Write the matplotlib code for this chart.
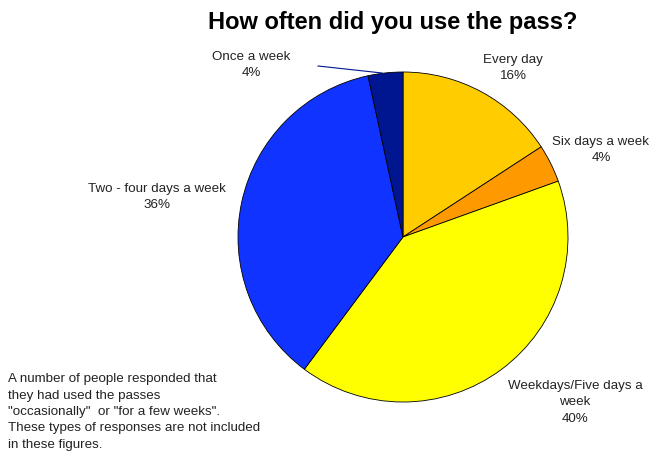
import matplotlib
matplotlib.use('Agg')
import matplotlib.pyplot as plt

plt.rcParams['font.family'] = ['Liberation Sans', 'DejaVu Sans']

# slices, clockwise from 12 o'clock
labels = ['Every day', 'Six days a week', 'Weekdays/Five days a\nweek',
          'Two - four days a week', 'Once a week']
shares = [15.8, 3.7, 40.7, 36.4, 3.4]
pct_text = ['16%', '4%', '40%', '36%', '4%']
colors = ['#FFCC00', '#FF9900', '#FFFF00', '#1133FF', '#001590']

W, H = 654, 459
fig = plt.figure(figsize=(W / 100, H / 100), dpi=100)
ax = fig.add_axes([0, 0, 1, 1])

cx, cy, r = 403, H - 237, 165
ax.pie(shares, colors=colors, startangle=90, counterclock=False,
       center=(cx, cy), radius=r, frame=True,
       wedgeprops=dict(edgecolor='black', linewidth=0.6))
ax.set_xlim(0, W)
ax.set_ylim(0, H)
ax.set_aspect('equal')
ax.axis('off')

# label positions in pixel coords (from top)
label_pos = [(513, 68), (601, 150), (575, 402), (157, 197), (251, 65)]
for lab, pct, (x, y) in zip(labels, pct_text, label_pos):
    ax.text(x, H - y, lab + '\n' + pct, ha='center', va='center',
            fontsize=9.6, linespacing=1.5, color='#222222')

# leader line for the small slice
ax.plot([318, 382], [H - 66, H - 73], color='#001590', linewidth=0.8)

ax.text(393, H - 22, 'How often did you use the pass?', ha='center', va='center',
        fontsize=17, fontweight='bold')

note = ('A number of people responded that\n'
        'they had used the passes\n'
        '"occasionally"  or "for a few weeks".\n'
        'These types of responses are not included\n'
        'in these figures.')
ax.text(8, H - 373, note, ha='left', va='top', fontsize=9.6, linespacing=1.5,
        color='#222222')

fig.savefig('out.png', dpi=100)
